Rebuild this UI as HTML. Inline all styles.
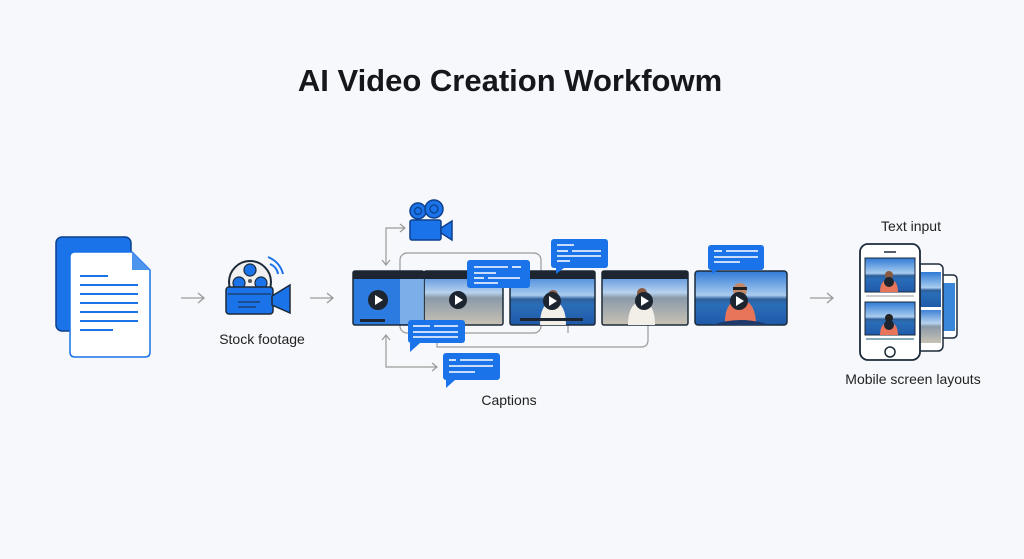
<!DOCTYPE html>
<html><head><meta charset="utf-8"><style>
html,body{margin:0;padding:0;background:#f7f8fb;}
svg{display:block;}
text{font-family:"Liberation Sans",sans-serif;}
</style></head><body>
<svg width="1024" height="559" viewBox="0 0 1024 559" xmlns="http://www.w3.org/2000/svg">
<defs>
<linearGradient id="sky" x1="0" y1="0" x2="0" y2="1">
<stop offset="0" stop-color="#2f7ad6"/><stop offset="0.45" stop-color="#a9cdef"/><stop offset="0.52" stop-color="#2f5f9a"/><stop offset="0.62" stop-color="#2a6db8"/><stop offset="1" stop-color="#1f5aa8"/>
</linearGradient>
<linearGradient id="beach" x1="0" y1="0" x2="0" y2="1">
<stop offset="0" stop-color="#3f82d6"/><stop offset="0.4" stop-color="#b8d2ee"/><stop offset="0.5" stop-color="#8a9aa8"/><stop offset="1" stop-color="#c9c2b5"/>
</linearGradient>
</defs>
<rect width="1024" height="559" fill="#f7f8fb"/>
<text x="510" y="91" text-anchor="middle" font-size="31" font-weight="bold" fill="#15171c">AI Video Creation Workfowm</text>

<!-- document -->
<rect x="56" y="237" width="75" height="94" rx="6" fill="#1a73e8" stroke="#0d3f8c" stroke-width="1.5"/>
<path d="M73,252 H132 L150,270 V352 Q150,357 145,357 H75 Q70,357 70,352 V257 Q70,252 75,252Z" fill="#fff" stroke="#1a73e8" stroke-width="1.5"/>
<path d="M132,252 V270 H150Z" fill="#4d94ec"/>
<g stroke="#1a73e8" stroke-width="2">
<line x1="80" y1="276" x2="108" y2="276"/><line x1="80" y1="285" x2="138" y2="285"/><line x1="80" y1="294" x2="138" y2="294"/><line x1="80" y1="303" x2="138" y2="303"/><line x1="80" y1="312" x2="138" y2="312"/><line x1="80" y1="321" x2="138" y2="321"/><line x1="80" y1="330" x2="113" y2="330"/>
</g>

<!-- arrows -->
<g stroke="#9a9a9a" stroke-width="1.3" fill="none">
<line x1="181" y1="298" x2="204" y2="298"/><path d="M198,293 L204,298 L198,303"/>
<line x1="310" y1="298" x2="333" y2="298"/><path d="M327,293 L333,298 L327,303"/>
<line x1="810" y1="298" x2="833" y2="298"/><path d="M827,293 L833,298 L827,303"/>
</g>

<!-- stock footage icon -->
<circle cx="250" cy="282" r="21" fill="#f0f0f0" stroke="#1c2a3a" stroke-width="2"/>
<circle cx="250" cy="270" r="6" fill="#1a73e8" stroke="#1c2a3a" stroke-width="1.2"/>
<circle cx="239" cy="283" r="6" fill="#1a73e8" stroke="#1c2a3a" stroke-width="1.2"/>
<circle cx="261" cy="283" r="6" fill="#1a73e8" stroke="#1c2a3a" stroke-width="1.2"/>
<circle cx="250" cy="281" r="2" fill="#555"/>
<path d="M268,257 Q280,262 283,274 M270,264 Q277,267 278,274" fill="none" stroke="#1a73e8" stroke-width="2"/>
<rect x="226" y="287" width="47" height="27" rx="3" fill="#1a73e8" stroke="#1c2a3a" stroke-width="1.5"/>
<path d="M272,296 L290,285 V313 L272,305Z" fill="#1a73e8" stroke="#1c2a3a" stroke-width="1.5"/>
<line x1="228" y1="294" x2="271" y2="294" stroke="#1c2a3a" stroke-width="1"/>
<line x1="238" y1="302" x2="260" y2="302" stroke="#1c2a3a" stroke-width="1"/>
<line x1="238" y1="307" x2="256" y2="307" stroke="#1c2a3a" stroke-width="1"/>
<text x="262" y="344" text-anchor="middle" font-size="14" fill="#222">Stock footage</text>

<!-- camera icon -->
<circle cx="418" cy="211" r="8" fill="#1a73e8" stroke="#0d3f8c" stroke-width="1.5"/><circle cx="418" cy="211" r="3.5" fill="none" stroke="#0d3f8c" stroke-width="1.2"/>
<circle cx="434" cy="209" r="9" fill="#1a73e8" stroke="#0d3f8c" stroke-width="1.5"/><circle cx="434" cy="209" r="4" fill="none" stroke="#0d3f8c" stroke-width="1.2"/>
<rect x="410" y="220" width="31" height="20" rx="2" fill="#1a73e8" stroke="#0d3f8c" stroke-width="1.5"/>
<path d="M441,228 L452,221 V240 L441,233Z" fill="#1a73e8" stroke="#0d3f8c" stroke-width="1.5"/>

<!-- connectors -->
<g stroke="#9a9a9a" stroke-width="1.2" fill="none">
<path d="M386,265 V228 H405" /><path d="M400,224 L405,228 L400,232"/><path d="M382,260 L386,265 L390,260"/>
<path d="M386,335 V367 H437"/><path d="M382,340 L386,335 L390,340"/><path d="M432,363 L437,367 L432,371"/>
<rect x="400" y="253" width="141" height="80" rx="7"/>
<path d="M437,333 V347 H641 Q648,347 648,340 V325"/>
<line x1="568" y1="318" x2="568" y2="333"/>
</g>

<!-- frames -->
<g>
<rect x="424" y="271" width="79" height="54" rx="2" fill="url(#beach)" stroke="#1c2a3a" stroke-width="1.5"/>
<rect x="424" y="271" width="79" height="8" fill="#1d2530"/>
<circle cx="458" cy="300" r="9" fill="#1d2530"/><path d="M455,295 L463,300 L455,305Z" fill="#fff"/>
<rect x="353" y="271" width="71" height="54" rx="2" fill="#2c7be0" stroke="#1c2a3a" stroke-width="1.5"/>
<rect x="400" y="279" width="24" height="45" fill="#9ec4ec" opacity="0.7"/>
<rect x="353" y="271" width="71" height="8" fill="#1d2530"/>
<circle cx="378" cy="300" r="10" fill="#1d2530"/><path d="M375,295 L383,300 L375,305Z" fill="#fff"/>
<rect x="360" y="319" width="25" height="3" fill="#1d2530"/>

<rect x="510" y="271" width="85" height="54" rx="2" fill="url(#sky)" stroke="#1c2a3a" stroke-width="1.5"/>
<rect x="510" y="271" width="85" height="8" fill="#1d2530"/>
<path d="M540,325 Q540,303 553,301 Q566,303 566,325Z" fill="#f2eee8"/><circle cx="553" cy="295" r="5" fill="#8a5a40"/>
<circle cx="552" cy="301" r="9" fill="#1d2530"/><path d="M549,296 L557,301 L549,306Z" fill="#fff"/>
<rect x="520" y="318" width="63" height="3" fill="#1d2530"/>

<rect x="602" y="271" width="86" height="54" rx="2" fill="url(#beach)" stroke="#1c2a3a" stroke-width="1.5"/>
<rect x="602" y="271" width="86" height="8" fill="#1d2530"/>
<path d="M628,325 Q628,303 642,301 Q655,303 655,325Z" fill="#f2eee8"/><circle cx="642" cy="293" r="5" fill="#8a5a40"/>
<circle cx="644" cy="301" r="9" fill="#1d2530"/><path d="M641,296 L649,301 L641,306Z" fill="#fff"/>

<rect x="695" y="271" width="92" height="54" rx="3" fill="url(#sky)" stroke="#1c2a3a" stroke-width="1.5"/>
<path d="M725,325 Q724,301 740,299 Q756,301 756,325Z" fill="#e8745a"/><circle cx="740" cy="290" r="7" fill="#c38a6a"/><rect x="733" y="287" width="14" height="3" fill="#222"/>
<path d="M712,325 Q740,315 770,325Z" fill="#1d3a6a"/>
<circle cx="739" cy="301" r="9" fill="#1d2530"/><path d="M736,296 L744,301 L736,306Z" fill="#fff"/>
</g>

<!-- bubbles -->
<g fill="#1a73e8">
<rect x="467" y="260" width="63" height="28" rx="3"/>
<rect x="551" y="239" width="57" height="29" rx="3"/><path d="M556,268 L556,274 L564,268Z"/>
<rect x="708" y="245" width="56" height="25" rx="3"/><path d="M712,270 L712,274 L718,270Z"/>
<rect x="408" y="320" width="57" height="23" rx="3"/><path d="M410,343 L410,352 L420,343Z"/>
<rect x="443" y="353" width="57" height="27" rx="3"/><path d="M446,380 L446,388 L455,380Z"/>
</g>
<g stroke="#fff" stroke-width="1.6">
<line x1="474" y1="267" x2="508" y2="267"/><line x1="512" y1="267" x2="521" y2="267"/><line x1="474" y1="273" x2="496" y2="273"/><line x1="474" y1="278" x2="484" y2="278"/><line x1="488" y1="278" x2="520" y2="278"/><line x1="474" y1="283" x2="498" y2="283"/>
<line x1="557" y1="245" x2="574" y2="245"/><line x1="557" y1="251" x2="568" y2="251"/><line x1="572" y1="251" x2="601" y2="251"/><line x1="557" y1="256" x2="601" y2="256"/><line x1="557" y1="261" x2="570" y2="261"/>
<line x1="714" y1="251" x2="722" y2="251"/><line x1="726" y1="251" x2="758" y2="251"/><line x1="714" y1="257" x2="758" y2="257"/><line x1="714" y1="262" x2="740" y2="262"/>
<line x1="413" y1="326" x2="430" y2="326"/><line x1="434" y1="326" x2="458" y2="326"/><line x1="413" y1="332" x2="458" y2="332"/><line x1="413" y1="337" x2="458" y2="337"/>
<line x1="449" y1="360" x2="456" y2="360"/><line x1="460" y1="360" x2="493" y2="360"/><line x1="449" y1="366" x2="493" y2="366"/><line x1="449" y1="372" x2="475" y2="372"/>
</g>
<text x="509" y="405" text-anchor="middle" font-size="14" fill="#222">Captions</text>

<!-- phones -->
<text x="911" y="231" text-anchor="middle" font-size="14" fill="#222">Text input</text>
<rect x="939" y="275" width="18" height="63" rx="4" fill="#fff" stroke="#1c2a3a" stroke-width="1.5"/>
<rect x="943" y="283" width="12" height="48" fill="#3a86d8"/>
<rect x="916" y="264" width="27" height="87" rx="5" fill="#fff" stroke="#1c2a3a" stroke-width="1.5"/>
<rect x="920" y="272" width="21" height="35" fill="url(#sky)"/><rect x="920" y="310" width="21" height="33" fill="url(#beach)"/>
<rect x="860" y="244" width="60" height="116" rx="8" fill="#fff" stroke="#1c2a3a" stroke-width="1.8"/>
<line x1="884" y1="252" x2="896" y2="252" stroke="#1c2a3a" stroke-width="1.5"/>
<rect x="865" y="258" width="50" height="34" fill="url(#sky)" stroke="#1c2a3a" stroke-width="1"/>
<rect x="865" y="302" width="50" height="33" fill="url(#sky)" stroke="#1c2a3a" stroke-width="1"/>
<path d="M880,292 Q880,280 889,279 Q898,280 898,292Z" fill="#e8745a"/><circle cx="889" cy="275" r="4" fill="#8a5a40"/>
<path d="M880,335 Q880,323 889,322 Q898,323 898,335Z" fill="#e8745a"/><circle cx="889" cy="318" r="4" fill="#222"/>
<circle cx="889" cy="282" r="5" fill="#1d2530"/><circle cx="889" cy="325" r="5" fill="#1d2530"/>
<line x1="866" y1="296" x2="914" y2="296" stroke="#ccc" stroke-width="2"/>
<line x1="866" y1="339" x2="914" y2="339" stroke="#8ab" stroke-width="2"/>
<circle cx="890" cy="352" r="5" fill="none" stroke="#1c2a3a" stroke-width="1.5"/>
<text x="913" y="384" text-anchor="middle" font-size="14" fill="#222">Mobile screen layouts</text>
</svg>
</body></html>
